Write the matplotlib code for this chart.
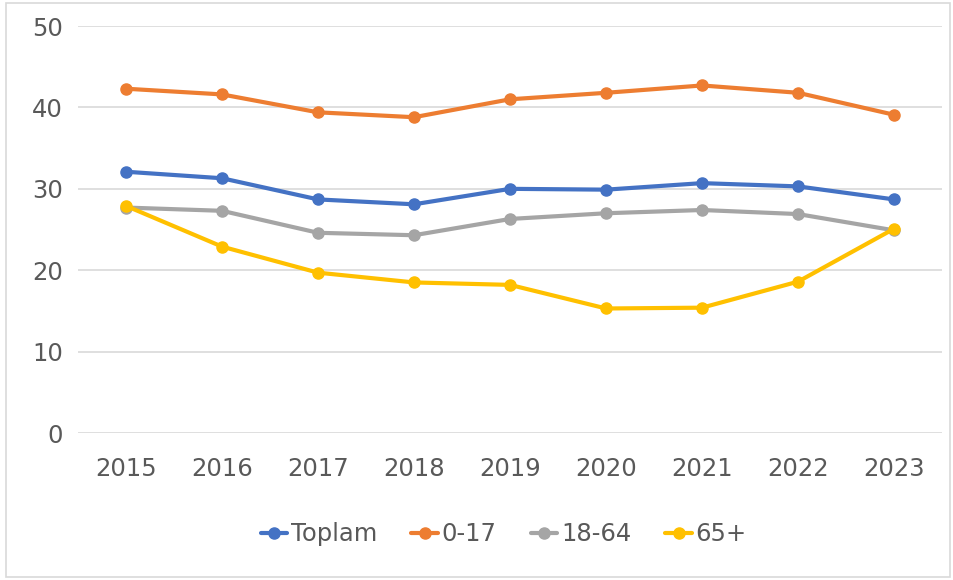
import numpy as np
import matplotlib.pyplot as plt
from matplotlib.patches import Rectangle

# data
years = ["2015", "2016", "2017", "2018", "2019", "2020", "2021", "2022", "2023"]
toplam = [32.1, 31.3, 28.7, 28.1, 30.0, 29.9, 30.7, 30.3, 28.7]
age_0_17 = [42.3, 41.6, 39.4, 38.8, 41.0, 41.8, 42.7, 41.8, 39.1]
age_18_64 = [27.7, 27.3, 24.6, 24.3, 26.3, 27.0, 27.4, 26.9, 24.9]
age_65 = [27.9, 22.9, 19.7, 18.5, 18.2, 15.3, 15.4, 18.6, 25.1]

series_names = ["Toplam", "0-17", "18-64", "65+"]
series_colors = ["#4472C4", "#ED7D31", "#A5A5A5", "#FFC000"]

fig = plt.figure(figsize=(9.54, 5.8), dpi=100)
ax = fig.add_axes([0.0818, 0.2534, 0.9057, 0.7017])

x = np.arange(len(years))
for vals, name, col in zip([toplam, age_0_17, age_18_64, age_65], series_names, series_colors):
	ax.plot(x, vals, color=col, linewidth=3, marker="o", markersize=8, label=name,
			solid_capstyle="round", solid_joinstyle="round")

ax.set_xlim(-0.5, len(years) - 0.5)
ax.set_ylim(0, 50)
ax.set_yticks(np.arange(0, 51, 10))
ax.set_xticks(x)
ax.set_xticklabels(years)
ax.grid(axis="y", color="#D9D9D9", linewidth=1.2)
ax.set_axisbelow(True)
for s in ax.spines.values():
	s.set_visible(False)
ax.tick_params(axis="both", length=0, labelsize=17.5, colors="#595959")
ax.tick_params(axis="y", pad=11)
ax.tick_params(axis="x", pad=17)

leg = fig.legend(loc="center", bbox_to_anchor=(0.528, 0.079), ncol=4, frameon=False,
				fontsize=17.5, handlelength=1.1, handletextpad=0.15, columnspacing=1.4,
				labelcolor="#595959")

# light outer chart frame
fig.patches.append(Rectangle((6 / 954, 3 / 580), 944 / 954, 574 / 580, transform=fig.transFigure,
							fill=False, edgecolor="#D9D9D9", linewidth=1.2))

fig.savefig("out.png", dpi=100)
